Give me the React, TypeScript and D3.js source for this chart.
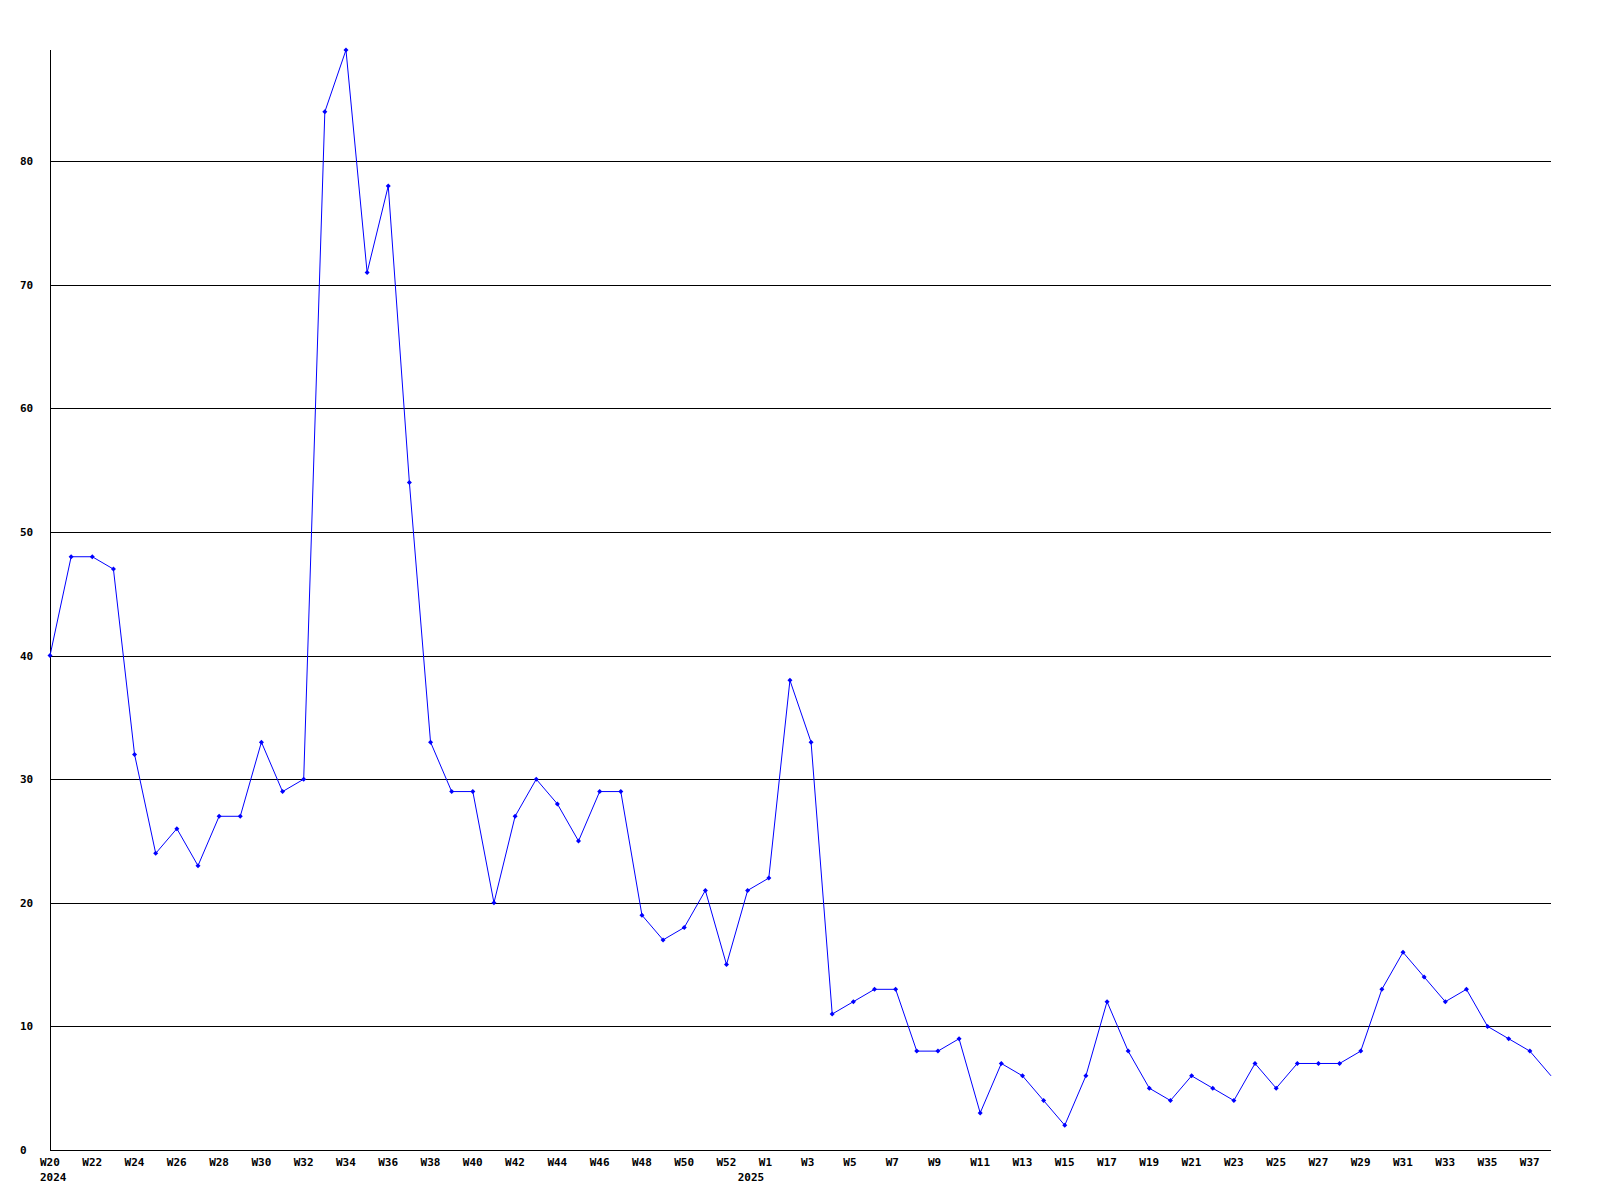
import { useEffect, useRef } from "react";
import * as d3 from "d3";

const weeks = [
  "W20", "W21", "W22", "W23", "W24", "W25", "W26", "W27", "W28", "W29",
  "W30", "W31", "W32", "W33", "W34", "W35", "W36", "W37", "W38", "W39",
  "W40", "W41", "W42", "W43", "W44", "W45", "W46", "W47", "W48", "W49",
  "W50", "W51", "W52", "W53",
  "W1", "W2", "W3", "W4", "W5", "W6", "W7", "W8", "W9", "W10",
  "W11", "W12", "W13", "W14", "W15", "W16", "W17", "W18", "W19", "W20",
  "W21", "W22", "W23", "W24", "W25", "W26", "W27", "W28", "W29", "W30",
  "W31", "W32", "W33", "W34", "W35", "W36", "W37", "W38",
];

const values = [
  40, 48, 48, 47, 32, 24, 26, 23, 27, 27,
  33, 29, 30, 84, 89, 71, 78, 54, 33, 29,
  29, 20, 27, 30, 28, 25, 29, 29, 19, 17,
  18, 21, 15, 21,
  22, 38, 33, 11, 12, 13, 13, 8, 8, 9,
  3, 7, 6, 4, 2, 6, 12, 8, 5, 4,
  6, 5, 4, 7, 5, 7, 7, 7, 8, 13,
  16, 14, 12, 13, 10, 9, 8, 6,
];

// year label sits under the first point of the year
const yearLabels = [
  { year: "2024", index: 0 },
  { year: "2025", index: 33 },
];

const yTicks = [0, 10, 20, 30, 40, 50, 60, 70, 80];

export default function App() {
  const svgRef = useRef<SVGSVGElement>(null);
  const width = 1600;
  const height = 1200;

  useEffect(() => {
    if (!svgRef.current) return;
    const svg = d3.select(svgRef.current);
    svg.selectAll("*").remove();

    const left = 50;
    const right = 1551;
    const top = 50;
    const bottom = 1150;
    const font = "'DejaVu Sans Mono', monospace";

    const x = d3
      .scaleLinear()
      .domain([0, values.length - 1])
      .range([left, right]);

    const y = d3
      .scaleLinear()
      .domain([0, d3.max(values) || 0])
      .range([bottom, top]);

    const crisp = (v: number) => Math.round(v) + 0.5;

    // grid lines
    svg
      .append("g")
      .selectAll("line")
      .data(yTicks.filter((t) => t > 0))
      .enter()
      .append("line")
      .attr("x1", left)
      .attr("x2", right)
      .attr("y1", (d) => crisp(y(d)))
      .attr("y2", (d) => crisp(y(d)))
      .attr("stroke", "#000")
      .attr("stroke-width", 1)
      .attr("shape-rendering", "crispEdges");

    // axes
    svg
      .append("line")
      .attr("x1", crisp(left))
      .attr("x2", crisp(left))
      .attr("y1", top)
      .attr("y2", bottom)
      .attr("stroke", "#000")
      .attr("shape-rendering", "crispEdges");
    svg
      .append("line")
      .attr("x1", left)
      .attr("x2", right)
      .attr("y1", crisp(bottom))
      .attr("y2", crisp(bottom))
      .attr("stroke", "#000")
      .attr("shape-rendering", "crispEdges");

    // y labels
    svg
      .append("g")
      .selectAll("text")
      .data(yTicks)
      .enter()
      .append("text")
      .attr("x", 20)
      .attr("y", (d) => y(d) + 4)
      .style("font-family", font)
      .style("font-size", "11px")
      .style("font-weight", "bold")
      .text((d) => d);

    // x labels, every second week
    svg
      .append("g")
      .selectAll("text")
      .data(weeks.map((w, i) => ({ w, i })).filter((d) => d.i % 2 === 0))
      .enter()
      .append("text")
      .attr("x", (d) => x(d.i) - 10)
      .attr("y", 1166)
      .style("font-family", font)
      .style("font-size", "11px")
      .style("font-weight", "bold")
      .text((d) => d.w);

    svg
      .append("g")
      .selectAll("text")
      .data(yearLabels)
      .enter()
      .append("text")
      .attr("x", (d) => x(d.index) - 10)
      .attr("y", 1181)
      .style("font-family", font)
      .style("font-size", "11px")
      .style("font-weight", "bold")
      .text((d) => d.year);

    // line
    const line = d3
      .line<number>()
      .x((_d, i) => x(i))
      .y((d) => y(d));

    svg
      .append("path")
      .datum(values)
      .attr("d", line)
      .attr("fill", "none")
      .attr("stroke", "#0000ff")
      .attr("stroke-width", 1);

    // point markers (last one falls on the edge and is not drawn)
    svg
      .append("g")
      .selectAll("path")
      .data(values.slice(0, -1))
      .enter()
      .append("path")
      .attr("transform", (d, i) => `translate(${x(i)},${y(d)})`)
      .attr("d", "M0,-2.5L2.5,0L0,2.5L-2.5,0Z")
      .attr("fill", "#0000ff");
  }, []);

  return (
    <div style={{ position: "absolute", left: 0, top: 0 }}>
      <svg
        ref={svgRef}
        width={width}
        height={height}
        viewBox={`0 0 ${width} ${height}`}
        style={{ display: "block", background: "#fff" }}
      />
    </div>
  );
}
